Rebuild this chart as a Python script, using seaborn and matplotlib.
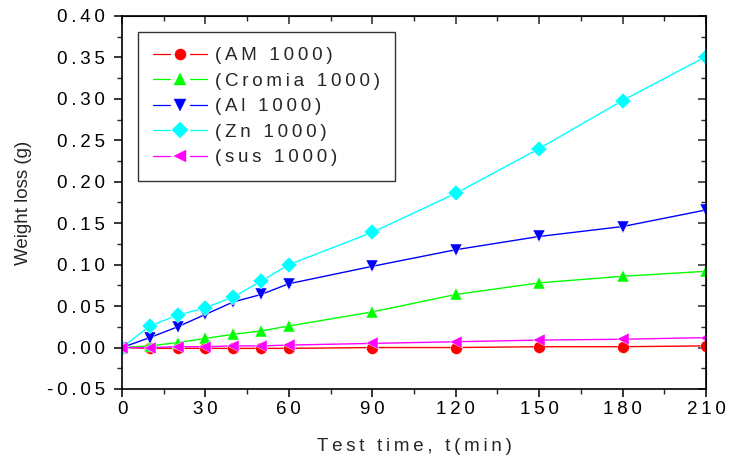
import matplotlib
matplotlib.use("Agg")
import matplotlib.pyplot as plt
import seaborn as sns
import pandas as pd
from matplotlib.ticker import MultipleLocator, FuncFormatter
from matplotlib.lines import Line2D
from matplotlib.legend_handler import HandlerBase

time_min = [0, 10, 20, 30, 40, 50, 60, 90, 120, 150, 180, 210]
am_1000 = [0.0, -0.001, -0.001, -0.001, -0.001, -0.001, -0.001, 0.0, 0.0, 0.001, 0.001, 0.002]
cromia_1000 = [0.0, 0.002, 0.006, 0.011, 0.016, 0.020, 0.026, 0.043, 0.064, 0.078, 0.086, 0.092]
al_1000 = [0.0, 0.012, 0.025, 0.040, 0.055, 0.064, 0.077, 0.098, 0.118, 0.134, 0.146, 0.166]
zn_1000 = [0.0, 0.026, 0.039, 0.048, 0.061, 0.080, 0.100, 0.139, 0.186, 0.240, 0.298, 0.351]
sus_1000 = [0.0, 0.0, 0.001, 0.001, 0.002, 0.002, 0.003, 0.005, 0.007, 0.009, 0.010, 0.012]

series_names = ["(AM 1000)", "(Cromia 1000)", "(Al 1000)", "(Zn 1000)", "(sus 1000)"]
series_values = [am_1000, cromia_1000, al_1000, zn_1000, sus_1000]
colors = ["#FF0000", "#00FF00", "#0000FF", "#00FFFF", "#FF00FF"]
markers = ["o", "^", "v", "D", "<"]

TS = "\u2009"  # thin space for the wide letter spacing of the original


def spaced(s):
    return TS.join(list(s))


class GapHandler(HandlerBase):
    """Legend entry drawn as line - marker - line with small gaps."""

    def create_artists(self, legend, orig_handle, xdescent, ydescent,
                       width, height, fontsize, trans):
        y = height / 2 - ydescent
        x0 = -xdescent
        x1 = -xdescent + width
        xm = (x0 + x1) / 2
        gap = 0.19 * width
        c = orig_handle.get_color()
        l1 = Line2D([x0, xm - gap], [y, y], color=c, lw=0.9)
        l2 = Line2D([xm + gap, x1], [y, y], color=c, lw=0.9)
        m = Line2D([xm], [y], linestyle="None", marker=orig_handle.get_marker(),
                   markersize=8,
                   markerfacecolor=c, markeredgecolor=c, markeredgewidth=0.3)
        for a in (l1, l2, m):
            a.set_transform(trans)
        return [l1, l2, m]


rows = []
for name, vals in zip(series_names, series_values):
    for t, v in zip(time_min, vals):
        rows.append({"time": t, "loss": v, "series": name})
df = pd.DataFrame(rows)

sns.set_style("white")
plt.rcParams["font.family"] = ["Liberation Sans", "DejaVu Sans"]

fig = plt.figure(figsize=(7.31, 4.69), dpi=100)
ax = fig.add_axes([0.1669, 0.1706, 0.7989, 0.7953])

sns.lineplot(data=df, x="time", y="loss", hue="series", style="series",
             hue_order=series_names, style_order=series_names,
             palette=dict(zip(series_names, colors)),
             markers=dict(zip(series_names, markers)), dashes=False,
             linewidth=1.0, markersize=8.5, markeredgewidth=0.3, ax=ax)

ax.set_xlim(0, 210)
ax.set_ylim(-0.05, 0.40)
ax.xaxis.set_major_locator(MultipleLocator(30))
ax.xaxis.set_minor_locator(MultipleLocator(15))
ax.yaxis.set_major_locator(MultipleLocator(0.05))
ax.yaxis.set_minor_locator(MultipleLocator(0.025))
ax.yaxis.set_major_formatter(FuncFormatter(lambda v, p: spaced(f"{v:.2f}")))
ax.xaxis.set_major_formatter(FuncFormatter(lambda v, p: spaced(f"{v:.0f}")))

for s in ax.spines.values():
    s.set_visible(True)
    s.set_color("black")
    s.set_linewidth(1.2)

ax.tick_params(axis="both", which="major", direction="out", length=6, width=1.1,
               labelsize=13.5, colors="black", left=True, bottom=True)
ax.tick_params(axis="y", which="major", pad=6)
ax.tick_params(axis="x", which="major", pad=3)
ax.tick_params(axis="both", which="minor", direction="out", length=3.5, width=1.0,
               left=True, bottom=True)

secx = ax.secondary_xaxis("top")
secx.xaxis.set_major_locator(MultipleLocator(30))
secx.xaxis.set_minor_locator(MultipleLocator(15))
secx.tick_params(which="major", direction="in", length=6, width=1.1, labeltop=False)
secx.tick_params(which="minor", direction="in", length=3.5, width=1.0)
secy = ax.secondary_yaxis("right")
secy.yaxis.set_major_locator(MultipleLocator(0.05))
secy.yaxis.set_minor_locator(MultipleLocator(0.025))
secy.tick_params(which="major", direction="in", length=6, width=1.1, labelright=False)
secy.tick_params(which="minor", direction="in", length=3.5, width=1.0)

ax.set_xlabel(spaced("Test time, t(min)"), fontsize=13.5, labelpad=14)
ax.set_ylabel("Weight loss (g)", fontsize=13.5, labelpad=11)

handles, labels = ax.get_legend_handles_labels()
leg = ax.legend(handles, [spaced(l) for l in labels], loc="upper left",
                bbox_to_anchor=(0.027, 0.957), borderaxespad=0,
                handler_map={Line2D: GapHandler()},
                fontsize=13.5, frameon=True, fancybox=False, edgecolor="black",
                handlelength=2.9, borderpad=0.8, labelspacing=0.45, handletextpad=0.4)
leg.get_frame().set_linewidth(1.0)

fig.savefig("out.png", dpi=100)
